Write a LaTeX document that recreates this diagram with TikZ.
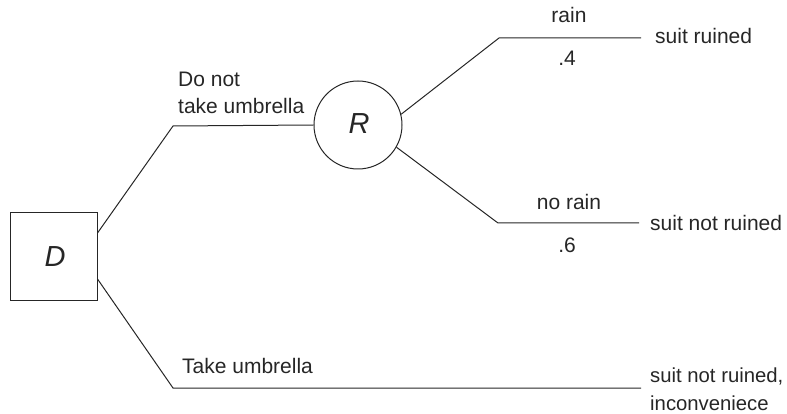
\documentclass[tikz,border=0pt]{standalone}
\usepackage{fontspec}
\setmainfont{Liberation Sans}
\usetikzlibrary{calc}
\begin{document}
\begin{tikzpicture}[x=1pt,y=-1pt,
  branch/.style={line width=1pt,draw=black!85},
  lbl/.style={inner sep=0pt,font=\fontsize{21}{27.5}\selectfont,text=black!85},
  dnode/.style={draw=black!85,line width=1pt,minimum size=87pt,inner sep=0pt},
  cnode/.style={draw=black!85,line width=1pt,circle,minimum size=88pt,inner sep=0pt},
  big/.style={font=\fontsize{29}{30}\selectfont\itshape,text=black!85}]
\useasboundingbox (0,0) rectangle (787,414);
\node[dnode] (D) at (53.5,256.5) {};
\node[big,inner sep=0pt,anchor=base] (Dl) at (55,266) {D};
\node[cnode] (R) at (358,125) {};
\node[big,inner sep=0pt,anchor=base] (Rl) at (359,134) {R};
\coordinate (a1) at (173,126);
\coordinate (b1) at (499,38);
\coordinate (b2) at (641,38);
\coordinate (c1) at (498,223);
\coordinate (c2) at (639,223);
\coordinate (d1) at (173,388);
\coordinate (d2) at (641,388);
\draw[branch] ([yshift=23.5pt]D.east) -- (a1) -- (R.west);
\draw[branch] (R.14) -- (b1) -- (b2);
\draw[branch] (R.-30) -- (c1) -- (c2);
\draw[branch] ([yshift=-22.5pt]D.east) -- (d1) -- (d2);
\node[lbl,anchor=base west,align=left] (t1) at (178,114) {Do not\\take umbrella};
\node[lbl,anchor=base] (t2) at (569,23) {rain};
\node[lbl,anchor=base] (t3) at (567,66) {.4};
\node[lbl,anchor=base west] (t4) at (655,44) {suit ruined};
\node[lbl,anchor=base] (t5) at (569,210) {no rain};
\node[lbl,anchor=base] (t6) at (567,252) {.6};
\node[lbl,anchor=base west] (t7) at (650,230) {suit not ruined};
\node[lbl,anchor=base west] (t8) at (182,373) {Take umbrella};
\node[lbl,anchor=base west,align=left,font=\fontsize{20.3}{28}\selectfont] (t9) at (650,410) {suit not ruined,\\inconveniece};
\end{tikzpicture}
\end{document}
